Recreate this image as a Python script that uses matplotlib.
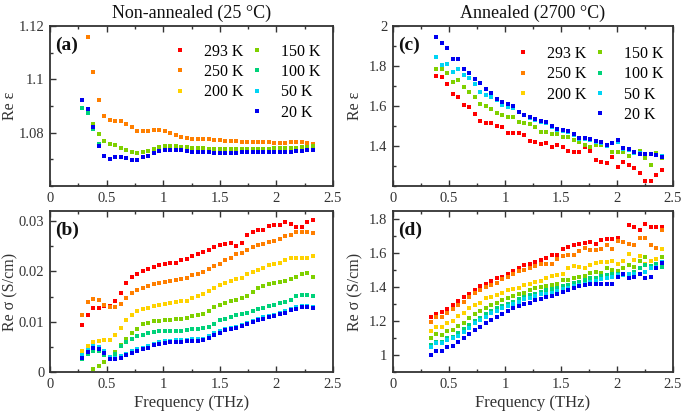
import numpy as np
import matplotlib
matplotlib.use("Agg")
import matplotlib.pyplot as plt
from matplotlib.ticker import MultipleLocator, FuncFormatter
from matplotlib.lines import Line2D

plt.rcParams['font.family'] = ['Liberation Serif', 'DejaVu Serif']

nan = np.nan

# frequency grids (THz)
freq_left = [0.285, 0.334, 0.382, 0.431, 0.479, 0.528, 0.576, 0.625, 0.673, 0.722,
             0.770, 0.819, 0.867, 0.916, 0.964, 1.013, 1.061, 1.110, 1.158, 1.207,
             1.255, 1.304, 1.352, 1.401, 1.449, 1.498, 1.546, 1.595, 1.643, 1.692,
             1.740, 1.789, 1.837, 1.886, 1.934, 1.983, 2.031, 2.080, 2.128, 2.177,
             2.225, 2.274, 2.322]
freq_right = [0.336, 0.385, 0.434, 0.483, 0.532, 0.582, 0.631, 0.680, 0.729, 0.778,
              0.827, 0.876, 0.925, 0.974, 1.023, 1.073, 1.122, 1.171, 1.220, 1.269,
              1.318, 1.367, 1.416, 1.465, 1.514, 1.564, 1.613, 1.662, 1.711, 1.760,
              1.809, 1.858, 1.907, 1.956, 2.005, 2.055, 2.104, 2.153, 2.202, 2.251,
              2.300, 2.349, 2.398]

temps = ['293 K', '250 K', '200 K', '150 K', '100 K', '50 K', '20 K']
colors = ['#ff0000', '#ff7f00', '#ffd200', '#7fd000', '#00d27a', '#00d4f4', '#0000f0']

# (a) non-annealed, Re eps
a_250 = [nan, 1.1160, 1.1029, 1.0921, 1.0861, 1.0846, 1.0842, 1.0842, 1.0834, 1.0820,
         1.0807, 1.0807, 1.0807, 1.0811, 1.0809, 1.0807, 1.0798, 1.0792, 1.0784, 1.0780,
         1.0778, 1.0776, 1.0776, 1.0775, 1.0772, 1.0772, 1.0770, 1.0769, 1.0768, 1.0766,
         1.0766, 1.0765, 1.0766, 1.0764, 1.0764, 1.0762, 1.0762, 1.0762, 1.0764, 1.0764,
         1.0764, 1.0762, 1.0759]
a_150 = [nan, nan, 1.0832, 1.0796, 1.0768, 1.0759, 1.0755, 1.0743, 1.0734, 1.0727,
         1.0724, 1.0727, 1.0731, 1.0739, 1.0746, 1.0749, 1.0750, 1.0750, 1.0748, 1.0745,
         1.0744, 1.0743, 1.0742, 1.0740, 1.0738, 1.0738, 1.0738, 1.0739, 1.0739, 1.0739,
         1.0740, 1.0740, 1.0740, 1.0740, 1.0740, 1.0741, 1.0741, 1.0743, 1.0744, 1.0744,
         1.0745, 1.0747, 1.0751]
a_100 = [1.0892, 1.0873, 1.0815, 1.0759, 1.0711]
a_20 = [1.0923, 1.0889, 1.0821, 1.0749, 1.0714, 1.0702, 1.0709, 1.0709, 1.0705, 1.0699,
        1.0699, 1.0708, 1.0714, 1.0724, 1.0730, 1.0734, 1.0736, 1.0736, 1.0734, 1.0730,
        1.0729, 1.0728, 1.0728, 1.0726, 1.0724, 1.0723, 1.0724, 1.0724, 1.0725, 1.0726,
        1.0726, 1.0726, 1.0726, 1.0726, 1.0726, 1.0726, 1.0727, 1.0729, 1.0729, 1.0730,
        1.0733, 1.0734, 1.0736]

# (b) non-annealed, Re sigma (S/cm)
b_293 = [0.0093, 0.0113, 0.0127, 0.0127, 0.0132, 0.0132, 0.0142, 0.0158, 0.0177, 0.0189,
         0.0195, 0.0201, 0.0204, 0.0209, 0.0212, 0.0215, 0.0217, 0.0217, 0.0222, 0.0225,
         0.0230, 0.0234, 0.0238, 0.0242, 0.0248, 0.0253, 0.0255, 0.0257, 0.0250, 0.0257,
         0.0272, 0.0278, 0.0282, 0.0283, 0.0291, 0.0293, 0.0293, 0.0299, 0.0295, 0.0288,
         0.0288, 0.0299, 0.0303]
b_250 = [0.0114, 0.0139, 0.0146, 0.0144, 0.0134, 0.0129, 0.0129, 0.0136, 0.0147, 0.0158,
         0.0162, 0.0167, 0.0171, 0.0174, 0.0177, 0.0179, 0.0181, 0.0183, 0.0185, 0.0187,
         0.0192, 0.0195, 0.0199, 0.0204, 0.0210, 0.0215, 0.0222, 0.0227, 0.0234, 0.0237,
         0.0243, 0.0248, 0.0252, 0.0255, 0.0258, 0.0261, 0.0265, 0.0270, 0.0273, 0.0278,
         0.0279, 0.0279, 0.0276]
b_200 = [0.0042, 0.0052, 0.0060, 0.0062, 0.0063, 0.0064, 0.0074, 0.0087, 0.0103, 0.0114,
         0.0121, 0.0125, 0.0128, 0.0131, 0.0134, 0.0136, 0.0138, 0.0139, 0.0141, 0.0142,
         0.0147, 0.0151, 0.0156, 0.0161, 0.0167, 0.0172, 0.0177, 0.0180, 0.0184, 0.0187,
         0.0194, 0.0199, 0.0203, 0.0207, 0.0212, 0.0214, 0.0217, 0.0222, 0.0226, 0.0227,
         0.0227, 0.0226, 0.0230]
b_150 = [nan, nan, 0.0005, 0.0012, 0.0020, 0.0030, 0.0040, 0.0053, 0.0066, 0.0077,
         0.0086, 0.0095, 0.0098, 0.0101, 0.0101, 0.0103, 0.0104, 0.0106, 0.0106, 0.0108,
         0.0111, 0.0113, 0.0116, 0.0121, 0.0129, 0.0134, 0.0138, 0.0141, 0.0144, 0.0148,
         0.0152, 0.0160, 0.0166, 0.0170, 0.0174, 0.0177, 0.0179, 0.0181, 0.0184, 0.0189,
         0.0194, 0.0197, 0.0189]
b_100 = [0.0026, 0.0036, 0.0042, 0.0042, 0.0033, 0.0030, 0.0036, 0.0051, 0.0060, 0.0065,
         0.0071, 0.0074, 0.0077, 0.0079, 0.0081, 0.0081, 0.0081, 0.0081, 0.0081, 0.0083,
         0.0085, 0.0086, 0.0088, 0.0089, 0.0096, 0.0103, 0.0106, 0.0109, 0.0113, 0.0115,
         0.0117, 0.0121, 0.0125, 0.0128, 0.0131, 0.0134, 0.0138, 0.0140, 0.0144, 0.0152,
         0.0154, 0.0154, 0.0151]
b_50 = [0.0033, 0.0044, 0.0051, 0.0050, 0.0041, 0.0029, 0.0028, 0.0031, 0.0036, 0.0041,
        0.0045, 0.0048, 0.0051, 0.0056, 0.0059, 0.0061, 0.0062, 0.0063, 0.0063, 0.0064,
        0.0065, 0.0065, 0.0066, 0.0071, 0.0077, 0.0081, 0.0086, 0.0088, 0.0090, 0.0094,
        0.0098, 0.0102, 0.0106, 0.0109, 0.0112, 0.0114, 0.0118, 0.0121, 0.0126, 0.0129,
        0.0132, 0.0132, 0.0129]
b_20 = [0.0028, 0.0040, 0.0048, 0.0046, 0.0038, 0.0026, 0.0025, 0.0028, 0.0033, 0.0038,
        0.0042, 0.0045, 0.0048, 0.0053, 0.0056, 0.0058, 0.0059, 0.0060, 0.0060, 0.0061,
        0.0062, 0.0062, 0.0063, 0.0068, 0.0074, 0.0078, 0.0083, 0.0085, 0.0087, 0.0091,
        0.0095, 0.0099, 0.0103, 0.0106, 0.0109, 0.0111, 0.0115, 0.0118, 0.0123, 0.0126,
        0.0130, 0.0130, 0.0127]

# (c) annealed, Re eps
c_293 = [nan, 1.750, 1.743, 1.710, 1.660, 1.643, 1.605, 1.597, 1.560, 1.527,
         1.517, 1.517, 1.502, 1.493, 1.463, 1.463, 1.463, 1.455, 1.427, 1.422,
         1.408, 1.417, 1.393, 1.405, 1.393, 1.375, 1.372, 1.368, 1.393, 1.375,
         1.330, 1.322, 1.313, 1.343, 1.297, 1.322, 1.305, 1.288, 1.263, 1.227,
         1.227, 1.255, 1.280]
c_150 = [nan, 1.783, 1.783, 1.763, 1.722, 1.730, 1.693, 1.672, 1.643, 1.610,
         1.600, 1.583, 1.563, 1.555, 1.543, 1.543, 1.518, 1.513, 1.508, 1.497,
         1.468, 1.468, 1.458, 1.458, 1.447, 1.443, 1.430, 1.422, 1.405, 1.397,
         1.405, 1.405, 1.400, 1.372, 1.372, 1.372, 1.350, 1.372, 1.375, 1.338,
         1.305, 1.367, 1.338]
c_50 = [nan, 1.847, 1.805, 1.808, 1.772, 1.783, 1.755, 1.738, 1.710, 1.672,
        1.655, 1.643, 1.630, 1.605, 1.593, 1.588, 1.572, 1.555, 1.538, 1.530,
        1.520, 1.517, 1.495, 1.478, 1.475, 1.472, 1.455, 1.433, 1.433, 1.430,
        1.422, 1.417, 1.400, 1.413, 1.422, 1.383, 1.378, 1.367, 1.365, 1.362,
        1.358, 1.355, 1.352]
c_20 = [nan, 1.943, 1.917, 1.888, 1.833, 1.833, 1.787, 1.763, 1.737, 1.717,
        1.685, 1.663, 1.635, 1.622, 1.608, 1.600, 1.572, 1.555, 1.543, 1.533,
        1.525, 1.522, 1.500, 1.483, 1.480, 1.477, 1.460, 1.438, 1.438, 1.433,
        1.427, 1.422, 1.405, 1.417, 1.430, 1.388, 1.383, 1.372, 1.358, 1.360,
        1.358, 1.355, 1.347]

# (d) annealed, Re sigma (S/cm)
d_293 = [1.226, 1.245, 1.255, 1.271, 1.295, 1.318, 1.340, 1.363, 1.383, 1.407,
         1.418, 1.436, 1.452, 1.462, 1.481, 1.495, 1.511, 1.530, 1.540, 1.550,
         1.560, 1.574, 1.589, 1.593, 1.625, 1.639, 1.648, 1.658, 1.664, 1.668,
         1.658, 1.678, 1.684, 1.684, 1.692, 1.665, 1.770, 1.756, 1.737, 1.776,
         1.753, 1.753, 1.755]
d_250 = [1.196, 1.222, 1.222, 1.251, 1.271, 1.295, 1.314, 1.340, 1.369, 1.383,
         1.403, 1.416, 1.428, 1.448, 1.462, 1.481, 1.495, 1.501, 1.515, 1.525,
         1.540, 1.540, 1.540, 1.566, 1.585, 1.589, 1.593, 1.613, 1.633, 1.619,
         1.619, 1.623, 1.648, 1.623, 1.672, 1.668, 1.658, 1.652, 1.692, 1.692,
         1.652, 1.633, 1.737]
d_200 = [1.141, 1.163, 1.163, 1.192, 1.202, 1.230, 1.251, 1.275, 1.295, 1.310,
         1.334, 1.344, 1.357, 1.369, 1.383, 1.389, 1.397, 1.413, 1.422, 1.432,
         1.438, 1.456, 1.468, 1.472, 1.476, 1.511, 1.527, 1.517, 1.511, 1.534,
         1.546, 1.550, 1.550, 1.554, 1.540, 1.554, 1.599, 1.560, 1.583, 1.535,
         1.553, 1.565, 1.625]
d_150 = [1.102, 1.122, 1.118, 1.141, 1.147, 1.173, 1.192, 1.216, 1.240, 1.259,
         1.275, 1.295, 1.310, 1.324, 1.334, 1.350, 1.363, 1.369, 1.383, 1.393,
         1.403, 1.409, 1.413, 1.422, 1.442, 1.442, 1.456, 1.462, 1.468, 1.487,
         1.491, 1.487, 1.515, 1.501, 1.495, 1.515, 1.534, 1.521, 1.554, 1.580,
         1.511, 1.530, 1.580]
d_100 = [1.059, 1.078, 1.078, 1.098, 1.108, 1.128, 1.153, 1.177, 1.200, 1.220,
         1.240, 1.259, 1.275, 1.291, 1.304, 1.314, 1.328, 1.344, 1.354, 1.363,
         1.373, 1.383, 1.387, 1.397, 1.409, 1.413, 1.428, 1.432, 1.442, 1.452,
         1.456, 1.468, 1.472, 1.478, 1.481, 1.472, 1.481, 1.491, 1.511, 1.530,
         1.526, 1.540, 1.521]
d_50 = [1.049, 1.074, 1.074, 1.088, 1.098, 1.114, 1.137, 1.161, 1.187, 1.206,
        1.226, 1.246, 1.259, 1.275, 1.289, 1.301, 1.314, 1.328, 1.338, 1.348,
        1.358, 1.363, 1.369, 1.377, 1.389, 1.397, 1.409, 1.413, 1.422, 1.432,
        1.436, 1.448, 1.456, 1.462, 1.475, 1.472, 1.481, 1.481, 1.481, 1.491,
        1.511, 1.521, 1.550]
d_20 = [1.000, 1.023, 1.023, 1.045, 1.055, 1.075, 1.098, 1.122, 1.147, 1.167,
        1.187, 1.206, 1.226, 1.242, 1.259, 1.275, 1.289, 1.301, 1.310, 1.324,
        1.330, 1.340, 1.350, 1.363, 1.373, 1.383, 1.397, 1.407, 1.413, 1.417,
        1.417, 1.419, 1.417, 1.422, 1.462, 1.481, 1.456, 1.462, 1.481, 1.456,
        1.462, 1.511, 1.545]

# series per panel, in legend order (None = not visible in the figure)
panel_a = [None, a_250, None, a_150, a_100, None, a_20]
panel_b = [b_293, b_250, b_200, b_150, b_100, b_50, b_20]
panel_c = [c_293, None, None, c_150, None, c_50, c_20]
panel_d = [d_293, d_250, d_200, d_150, d_100, d_50, d_20]

fig = plt.figure(figsize=(6.85, 4.13), dpi=100)
W, H = 685.0, 413.0


def make_ax(l, r, t, b):
    return fig.add_axes([l / W, 1 - b / H, (r - l) / W, (b - t) / H])


ax_a = make_ax(50, 333, 26, 186)
ax_b = make_ax(50, 333, 211, 372)
ax_c = make_ax(393, 673, 26, 186)
ax_d = make_ax(393, 673, 211, 372)

fmt = FuncFormatter(lambda v, p: f'{v:g}')
ink = '#333333'
MS = 3.4


def draw(ax, freq, series, ylim, yticks, yminor, ylabel, tag, ylab_x):
    for vals, lab, c in zip(series, temps, colors):
        if vals is not None:
            ax.plot(freq[:len(vals)], vals, 's', ms=MS, mew=0, color=c, label=lab)
    ax.set_xlim(0, 2.5)
    ax.set_ylim(*ylim)
    ax.xaxis.set_major_locator(MultipleLocator(0.5))
    ax.xaxis.set_minor_locator(MultipleLocator(0.25))
    ax.set_yticks(yticks)
    ax.yaxis.set_minor_locator(MultipleLocator(yminor))
    ax.xaxis.set_major_formatter(fmt)
    ax.yaxis.set_major_formatter(fmt)
    ax.tick_params(which='both', direction='in', top=True, right=False,
                   colors=ink, labelsize=10.5, pad=4)
    ax.tick_params(which='major', length=4, width=1)
    ax.tick_params(which='minor', length=2.5, width=1)
    for s in ax.spines.values():
        s.set_color(ink)
        s.set_linewidth(1.3)
    ax.set_ylabel(ylabel, fontsize=11.5, color=ink)
    ax.yaxis.set_label_coords(ylab_x, 0.5)
    ax.text(0.018, 0.935, tag, transform=ax.transAxes, fontsize=14,
            fontweight='bold', va='top', ha='left', color='#111111')


draw(ax_a, freq_left, panel_a, (1.06, 1.12), [1.08, 1.10, 1.12], 0.01, 'Re ε', '(a)', -0.112)
draw(ax_b, freq_left, panel_b, (0, 0.032), [0, 0.01, 0.02, 0.03], 0.005, 'Re σ (S/cm)', '(b)', -0.112)
draw(ax_c, freq_right, panel_c, (1.2, 2.0), [1.4, 1.6, 1.8, 2.0], 0.1, 'Re ε', '(c)', -0.107)
draw(ax_d, freq_right, panel_d, (0.9, 1.85), [1.0, 1.2, 1.4, 1.6, 1.8], 0.1, 'Re σ (S/cm)', '(d)', -0.107)

for ax in (ax_b, ax_d):
    ax.set_xlabel('Frequency (THz)', fontsize=12, color=ink, labelpad=3)

ax_a.set_title('Non-annealed (25 °C)', fontsize=13, color='#111111', pad=6)
ax_c.set_title('Annealed (2700 °C)', fontsize=13, color='#111111', pad=6)

# legend: 293/250/200 K in the first column, 150..20 K in the second
handles = [Line2D([], [], ls='none', marker='s', ms=MS, mew=0, color=c) for c in colors]
blank = Line2D([], [], ls='none')
leg_handles = handles[:3] + [blank] + handles[3:]
leg_labels = temps[:3] + [''] + temps[3:]

for ax, anchor in ((ax_a, (0.955, 0.89)), (ax_c, (0.965, 0.875))):
    ax.legend(leg_handles, leg_labels, loc='upper right', bbox_to_anchor=anchor,
              ncol=2, frameon=False, fontsize=11.5, numpoints=1, handlelength=0.8,
              handletextpad=1.1, columnspacing=0.45, labelspacing=0.27, borderpad=0,
              borderaxespad=0)

fig.savefig('out.png', dpi=100)
